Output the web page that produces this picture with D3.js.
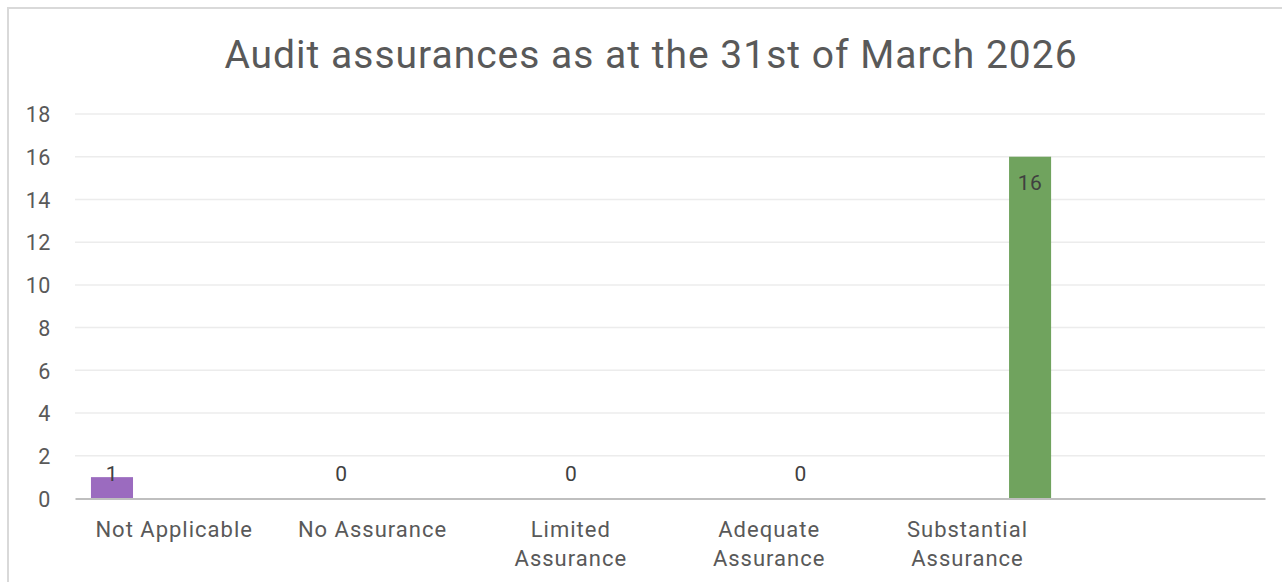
<!DOCTYPE html>
<html>
<head>
<meta charset="utf-8">
<script src="https://cdn.jsdelivr.net/npm/d3@7"></script>
<style>
  html, body { margin: 0; padding: 0; background: #ffffff; }
  svg { display: block; font-family: Roboto, "Noto Sans", sans-serif; }
</style>
</head>
<body>
<svg id="chart" width="1282" height="582"></svg>
<script>
// Audit assurance counts, one series per assurance category
const categories = ["Not Applicable", "No Assurance", "Limited Assurance", "Adequate Assurance", "Substantial Assurance", ""];
const tickLabelLines = [["Not Applicable"], ["No Assurance"], ["Limited", "Assurance"], ["Adequate", "Assurance"], ["Substantial", "Assurance"], []];
const seriesNames = ["Not Applicable", "No Assurance", "Limited Assurance", "Adequate Assurance", "Substantial Assurance"];
const seriesValues = [1, 0, 0, 0, 16];
const seriesColors = ["#9b6bbf", "#4a7ebb", "#c0504d", "#f79646", "#70a35e"];
const yTicks = [0, 2, 4, 6, 8, 10, 12, 14, 16, 18];
const titleText = "Audit assurances as at the 31st of March 2026";

const svg = d3.select("#chart");
const margin = { left: 75, right: 17, top: 114, bottom: 83.5 };
const W = 1282, H = 582;

// chart frame
svg.append("rect")
  .attr("x", 8).attr("y", 8)
  .attr("width", W + 10).attr("height", H + 10)
  .attr("fill", "#ffffff")
  .attr("stroke", "#d9d9d9").attr("stroke-width", 2);

const x = d3.scaleBand()
  .domain(d3.range(categories.length))
  .range([margin.left, W - margin.right])
  .paddingInner(0).paddingOuter(0);

const bw = x.bandwidth();
const xs = d3.scalePoint()
  .domain(seriesNames)
  .range([bw * 0.1865, bw * 0.8155]);
const barWidth = bw * 0.212;

const y = d3.scaleLinear()
  .domain([0, 18])
  .range([H - margin.bottom, margin.top]);

// gridlines
svg.append("g")
  .selectAll("line")
  .data(yTicks.filter(t => t > 0))
  .join("line")
  .attr("x1", margin.left).attr("x2", W - margin.right)
  .attr("y1", d => y(d)).attr("y2", d => y(d))
  .attr("stroke", "#ececec").attr("stroke-width", 1.5);

// y tick labels
const yAxis = d3.axisLeft(y).tickValues(yTicks).tickSize(0).tickPadding(0);
const gy = svg.append("g").attr("transform", "translate(51,0)").call(yAxis);
gy.select(".domain").remove();
gy.selectAll("text")
  .attr("font-family", "Roboto, sans-serif")
  .attr("font-size", 21.5)
  .attr("letter-spacing", 0.6)
  .attr("fill", "#595959")
  .attr("text-anchor", "end")
  .attr("dy", "0.36em");

// bars: each series occupies its own slot within the category it belongs to
const bars = seriesNames.map((s, i) => ({ series: s, cat: i, value: seriesValues[i], color: seriesColors[i] }));

svg.append("g")
  .selectAll("rect")
  .data(bars)
  .join("rect")
  .attr("x", d => x(d.cat) + xs(d.series) - barWidth / 2)
  .attr("width", barWidth)
  .attr("y", d => y(d.value))
  .attr("height", d => y(0) - y(d.value))
  .attr("fill", d => d.color);

// category axis line
const xAxis = d3.axisBottom(x).tickSize(0).tickFormat(() => "");
const gx = svg.append("g").attr("transform", `translate(0,${y(0)})`).call(xAxis);
gx.select(".domain").attr("stroke", "#bfbfbf").attr("stroke-width", 2.2);

// category labels
const catLabels = svg.append("g")
  .attr("font-size", 22)
  .attr("letter-spacing", 1)
  .attr("fill", "#595959")
  .attr("text-anchor", "middle");
tickLabelLines.forEach((lines, i) => {
  const t = catLabels.append("text")
    .attr("x", x(i) + bw / 2)
    .attr("y", y(0) + 38);
  lines.forEach((ln, k) => {
    t.append("tspan")
      .attr("x", x(i) + bw / 2)
      .attr("dy", k === 0 ? 0 : 29)
      .text(ln);
  });
});

// data labels
svg.append("g")
  .selectAll("text")
  .data(bars)
  .join("text")
  .attr("x", d => x(d.cat) + xs(d.series))
  .attr("y", d => Math.min(y(d.value) + 26, y(0) - 25))
  .attr("dy", "0.36em")
  .attr("text-anchor", "middle")
  .attr("font-size", 21)
  .attr("letter-spacing", 0.5)
  .attr("fill", "#404040")
  .text(d => d.value);

// title
svg.append("text")
  .attr("x", 651)
  .attr("y", 68)
  .attr("text-anchor", "middle")
  .attr("font-size", 39)
  .attr("letter-spacing", 1)
  .attr("fill", "#595959")
  .text(titleText);
</script>
</body>
</html>
